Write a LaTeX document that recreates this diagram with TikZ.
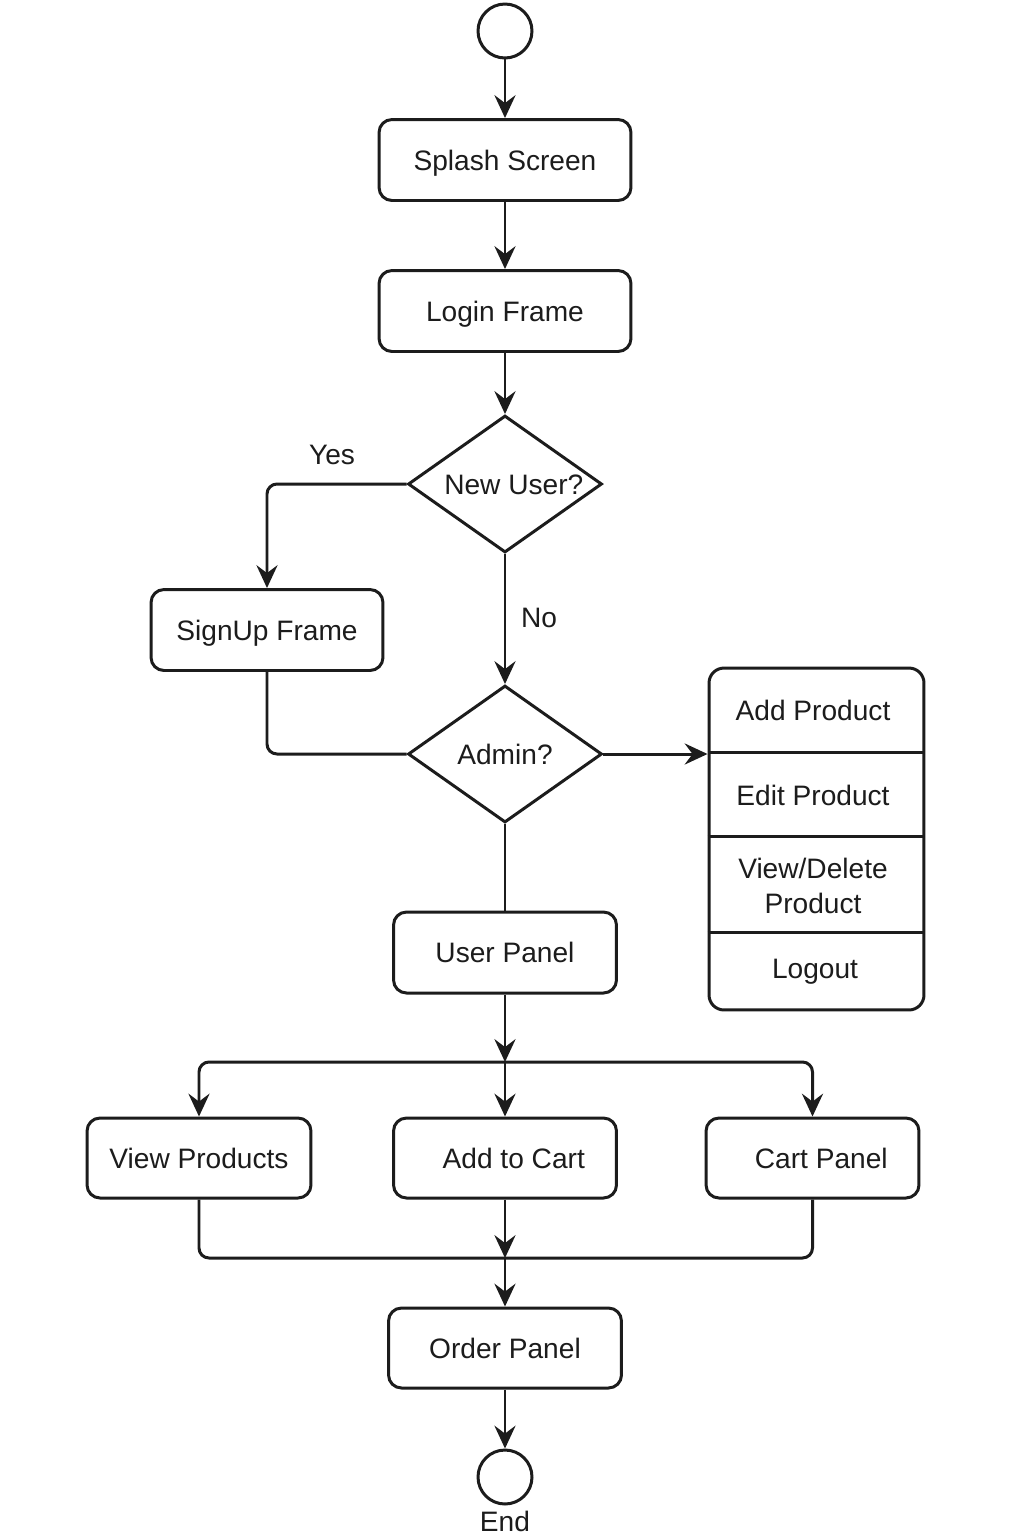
\documentclass[tikz,border=0pt]{standalone}
\usepackage{fontspec}
\setmainfont{Liberation Sans}
\usetikzlibrary{arrows.meta,shapes.geometric}
\definecolor{ink}{HTML}{1C1C1C}
\begin{document}
\begin{tikzpicture}[x=0.02cm,y=-0.02cm,
  font=\fontsize{16}{20.4}\selectfont,
  line width=1.7pt, draw=ink, text=ink,
  box/.style={draw, rounded corners=0.26cm, minimum height=1.62cm, inner sep=0pt, align=center, text height=11.5pt, text depth=0pt},
  dec/.style={diamond, draw, aspect=1.416, inner sep=0pt, minimum width=3.88cm, minimum height=2.74cm, text height=11.5pt, text depth=0pt},
  term/.style={circle, draw, minimum size=1.08cm, inner sep=0pt},
  arr/.style={-{Stealth[length=13pt,width=12pt,inset=4.5pt]}},
  elbow/.style={rounded corners=0.2cm}]
\useasboundingbox (0,0) rectangle (1024,1536);
\fill[white] (0,0) rectangle (1024,1536);

\node[term] (start) at (505,31) {};
\node[box, minimum width=5.04cm] (splash) at (505,160) {Splash Screen};
\node[box, minimum width=5.04cm] (login) at (505,311) {Login Frame};
\node[dec] (newuser) at (505,484) {\hspace{10pt}New User?};
\node[box, minimum width=4.64cm] (signup) at (267,630) {SignUp Frame};
\node[dec] (admin) at (505,754) {Admin?};
\node[draw, rounded corners=0.3cm, minimum width=4.3cm, minimum height=6.84cm, inner sep=0pt] (adminbox) at (816.5,839) {};
\node (addp) at (813,710) {Add Product};
\node (editp) at (813,795) {Edit Product};
\node[align=center] (viewdel) at (813,886) {View/Delete\\ Product};
\node (logout) at (815,972) {Logout};
\draw (adminbox.west |- 0,752) -- (adminbox.east |- 0,752);
\draw (adminbox.west |- 0,836) -- (adminbox.east |- 0,836);
\draw (adminbox.west |- 0,932) -- (adminbox.east |- 0,932);

\node[box, minimum width=4.46cm] (userp) at (505,952.5) {User Panel};
\node[box, minimum width=4.48cm, minimum height=1.6cm] (viewp) at (199,1158) {View Products};
\node[box, minimum width=4.46cm, minimum height=1.6cm] (addcart) at (505,1158) {\hspace{10pt}Add to Cart};
\node[box, minimum width=4.26cm, minimum height=1.6cm] (cartp) at (812.5,1158) {\hspace{10pt}Cart Panel};
\node[box, minimum width=4.66cm, minimum height=1.6cm] (order) at (505,1348) {Order Panel};
\node[term] (endc) at (505,1477) {};
\node (endlbl) at (505,1521) {End};

\node (yes) at (332,455) {Yes};
\node (no) at (539,618) {No};

\coordinate (split) at (505,1062);
\coordinate (merge) at (505,1258);

\draw[arr] (start) -- (splash);
\draw[arr] (splash) -- (login);
\draw[arr] (login) -- (newuser);
\draw[arr, elbow] (newuser.west) -| (signup.north);
\draw[arr] (newuser.south) -- (admin.north);
\draw[elbow] (signup.south) |- (admin.west);
\draw[arr] (admin.east) -- (admin.east -| adminbox.west);
\draw (admin.south) -- (userp.north);
\draw[arr] (userp.south) -- (split);
\draw[arr, elbow] (split) -| (viewp.north);
\draw[arr, elbow] (split) -| (cartp.north);
\draw[arr] (split) -- (addcart.north);
\draw[elbow] (viewp.south) |- (merge);
\draw[elbow] (cartp.south) |- (merge);
\draw[arr] (addcart.south) -- (merge);
\draw[arr] (merge) -- (order.north);
\draw[arr] (order) -- (endc);
\end{tikzpicture}
\end{document}
